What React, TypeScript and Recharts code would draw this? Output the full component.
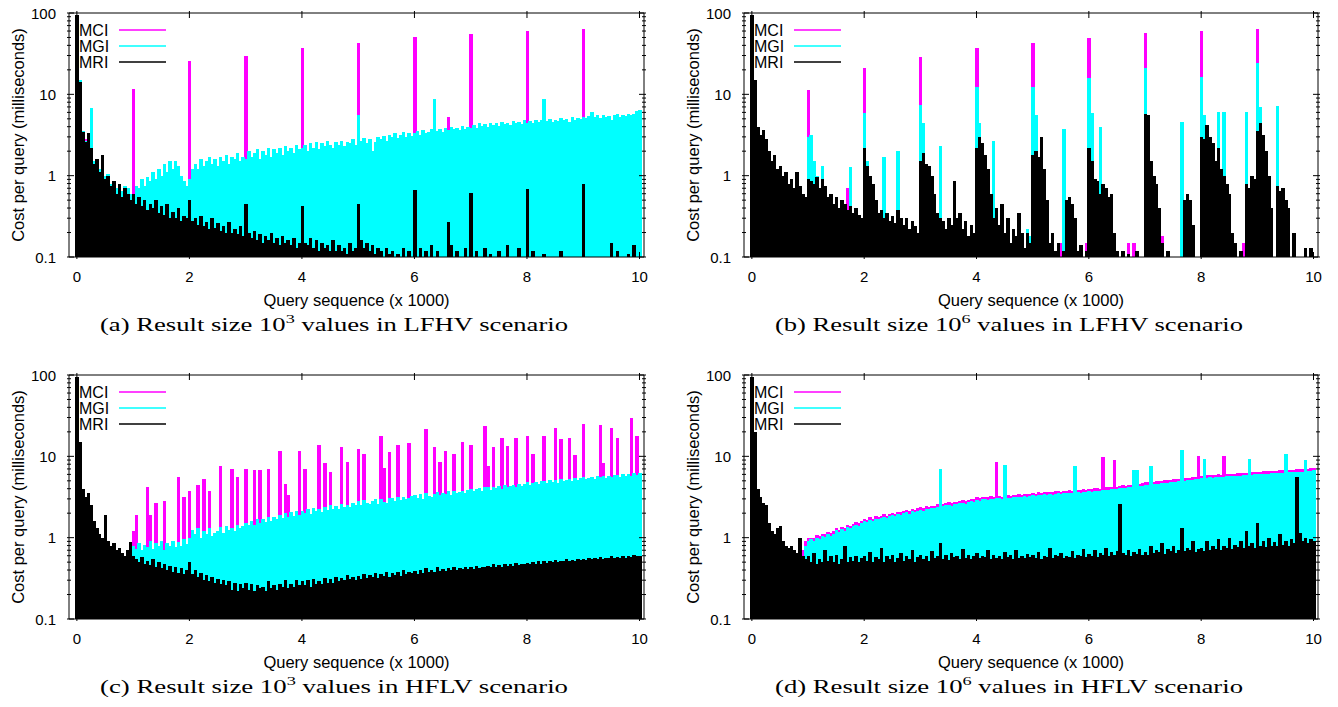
import React from "react";
import { ComposedChart, Bar, XAxis, YAxis } from "recharts";

// one slot = 50 queries, x axis is in thousands of queries
const queryStep = 0.05;
const xDomain = [-0.14, 10.08];
const xTicks = [0, 2, 4, 6, 8, 10];
const yTicks = [
  0.1, 0.2, 0.3, 0.4, 0.5, 0.6, 0.7, 0.8, 0.9,
  1, 2, 3, 4, 5, 6, 7, 8, 9,
  10, 20, 30, 40, 50, 60, 70, 80, 90, 100,
];
const yLabelTicks = [0.1, 1, 10, 100];

const seriesKeys = ["mci", "mgi", "mri"];
const seriesNames = ["MCI", "MGI", "MRI"];
const seriesColors = ["#ff00ff", "#00ffff", "#000000"];

const xTitle = "Query sequence (x 1000)";
const yTitle = "Cost per query (milliseconds)";
const panelLabels = ["(a)", "(b)", "(c)", "(d)"];
const resultExponents = ["3", "6", "3", "6"];
const scenarios = ["LFHV", "LFHV", "HFLV", "HFLV"];

// (a) result size 10^3, LFHV
const mciA = [
  92, 14, 3.5, 2.8, 3.2, 2.4, 1.5, 1.6, 1.2, 1.7, 1.0, 1.05, 0.8, 0.85, 0.7, 0.8, 0.6, 0.72, 0.65, 0.55,
  11.6, 0.6, 0.6, 0.75, 0.6, 0.8, 0.7, 0.9, 0.75, 1.0, 0.85, 1.1, 0.9, 1.2, 1.0, 1.2, 1.1, 0.85, 0.7, 0.6,
  26, 1.0, 1.2, 1.0, 1.3, 1.1, 1.3, 1.4, 1.2, 1.3, 1.1, 1.4, 1.3, 1.5, 1.2, 1.4, 1.3, 1.6, 1.3, 1.4,
  29.6, 1.7, 1.4, 1.6, 1.8, 1.4, 1.7, 1.5, 1.9, 1.5, 1.8, 1.6, 1.9, 1.5, 2.0, 1.7, 1.9, 1.6, 2.0, 1.8,
  37, 2.0, 1.7, 2.1, 1.9, 2.2, 1.8, 2.1, 2.0, 2.3, 2.0, 1.9, 2.2, 2.0, 2.3, 2.0, 2.2, 2.1, 2.4, 2.0,
  43, 2.3, 2.4, 2.1, 2.4, 1.8, 2.2, 2.5, 2.4, 2.6, 2.3, 2.7, 2.5, 2.8, 2.5, 2.7, 2.9, 2.6, 2.8, 2.6,
  50.6, 3.0, 2.7, 3.0, 2.8, 2.9, 3.1, 3.0, 3.0, 3.2, 2.9, 3.3, 5.3, 3.4, 3.1, 3.3, 3.1, 3.5, 3.2, 3.4,
  55, 3.6, 3.3, 3.7, 3.5, 3.6, 3.4, 3.8, 3.5, 3.7, 3.5, 3.9, 3.6, 3.8, 3.6, 4.0, 3.7, 3.9, 3.6, 4.0,
  60, 4.0, 3.7, 4.1, 3.9, 4.0, 4.1, 3.9, 4.2, 3.9, 4.1, 4.0, 4.3, 4.0, 4.2, 3.9, 4.4, 4.1, 4.3, 4.2,
  63.6, 4.3, 4.5, 4.6, 4.4, 4.6, 4.3, 4.7, 4.5, 4.6, 4.2, 4.7, 4.8, 4.5, 4.7, 4.6, 4.9, 4.7, 4.8, 5.2,
  5.5,
];
const mgiA = [
  90, 15, 3.5, 2.7, 3.2, 6.8, 1.5, 1.5, 1.2, 1.6, 1.0, 1.05, 0.8, 0.85, 0.7, 0.8, 0.65, 0.75, 0.7, 0.6,
  0.6, 0.75, 0.7, 0.9, 0.75, 0.95, 0.85, 1.1, 0.9, 1.2, 1.0, 1.4, 1.1, 1.5, 1.2, 1.5, 1.3, 1.0, 0.85, 0.75,
  0.9, 1.2, 1.4, 1.2, 1.6, 1.3, 1.5, 1.7, 1.4, 1.6, 1.3, 1.7, 1.5, 1.8, 1.4, 1.7, 1.6, 1.9, 1.5, 1.7,
  1.6, 2.0, 1.7, 1.9, 2.1, 1.6, 2.0, 1.8, 2.2, 1.7, 2.1, 1.9, 2.2, 1.8, 2.3, 2.0, 2.2, 1.9, 2.4, 2.1,
  2.2, 2.4, 2.0, 2.5, 2.2, 2.6, 2.1, 2.5, 2.3, 2.7, 2.4, 2.2, 2.6, 2.4, 2.7, 2.3, 2.6, 2.5, 2.8, 2.4,
  5.5, 2.7, 2.9, 2.5, 2.8, 2.0, 2.6, 3.0, 2.8, 3.1, 2.7, 3.2, 3.0, 3.3, 2.9, 3.2, 3.4, 3.0, 3.3, 3.1,
  3.3, 3.5, 3.2, 3.6, 3.3, 3.4, 3.7, 8.7, 3.5, 3.8, 3.4, 3.9, 3.6, 4.0, 3.7, 3.9, 3.6, 4.1, 3.8, 4.0,
  3.9, 4.2, 3.9, 4.4, 4.1, 4.3, 4.0, 4.5, 4.2, 4.4, 4.1, 4.6, 4.3, 4.5, 4.2, 4.7, 4.4, 4.6, 4.3, 4.8,
  4.5, 4.7, 4.4, 4.9, 4.6, 4.8, 8.7, 4.7, 5.0, 4.6, 4.9, 4.7, 5.1, 4.8, 5.0, 4.6, 5.2, 4.9, 5.1, 5.0,
  5.3, 5.1, 5.4, 6.0, 5.2, 5.5, 5.1, 5.6, 5.3, 5.4, 4.9, 5.5, 5.7, 5.3, 5.6, 5.4, 5.8, 5.5, 5.7, 6.2,
  6.5,
];
const mriA = [
  95, 14, 3.4, 2.6, 3.3, 2.2, 1.4, 1.6, 1.1, 1.8, 0.9, 1.0, 0.75, 0.85, 0.6, 0.8, 0.55, 0.7, 0.6, 0.5,
  0.6, 0.45, 0.55, 0.42, 0.5, 0.38, 0.45, 0.4, 0.5, 0.35, 0.42, 0.33, 0.45, 0.3, 0.36, 0.3, 0.4, 0.28, 0.32, 0.3,
  0.5, 0.28, 0.3, 0.25, 0.32, 0.24, 0.27, 0.22, 0.3, 0.23, 0.26, 0.21, 0.24, 0.2, 0.27, 0.2, 0.22, 0.19, 0.24, 0.18,
  0.45, 0.2, 0.17, 0.21, 0.16, 0.19, 0.15, 0.18, 0.16, 0.2, 0.15, 0.17, 0.14, 0.18, 0.15, 0.16, 0.14, 0.17, 0.13, 0.15,
  0.42, 0.15, 0.14, 0.17, 0.13, 0.16, 0.12, 0.15, 0.13, 0.14, 0.12, 0.16, 0.12, 0.14, 0.12, 0.13, 0.11, 0.15, 0.12, 0.13,
  0.45, 0.16, 0.13, 0.15, 0.12, 0.14, 0.11, 0.13, 0.12, 0.1, 0.13, 0.11, 0.12, 0.1, 0.11, 0.1, 0.13, 0.1, 0.12, 0.1,
  0.66, 0.1, 0.13, 0.1, 0.12, 0.1, 0.14, 0.1, 0.12, 0.1, 0.1, 0.1, 0.27, 0.14, 0.1, 0.12, 0.1, 0.1, 0.13, 0.1,
  0.62, 0.1, 0.12, 0.1, 0.1, 0.13, 0.1, 0.11, 0.1, 0.1, 0.12, 0.1, 0.1, 0.14, 0.1, 0.1, 0.1, 0.13, 0.1, 0.1,
  0.69, 0.1, 0.12, 0.1, 0.1, 0.1, 0.11, 0.1, 0.1, 0.1, 0.1, 0.1, 0.12, 0.1, 0.1, 0.1, 0.1, 0.1, 0.1, 0.1,
  0.79, 0.1, 0.1, 0.1, 0.1, 0.1, 0.1, 0.1, 0.1, 0.1, 0.15, 0.1, 0.12, 0.1, 0.1, 0.1, 0.11, 0.1, 0.14, 0.1,
  0.1,
];

// (b) result size 10^6, LFHV
const mciB = [
  92, 15, 4.0, 3.2, 3.6, 2.8, 2.0, 1.5, 1.8, 1.2, 1.3, 1.0, 1.1, 0.8, 0.9, 0.7, 1.1, 0.75, 0.6, 0.55,
  11.2, 0.85, 0.8, 0.95, 0.7, 0.9, 0.75, 0.55, 0.6, 0.45, 0.55, 0.4, 0.5, 0.45, 0.7, 0.42, 0.35, 0.4, 0.33, 0.3,
  21, 1.3, 1.0, 0.8, 0.5, 0.35, 0.38, 0.3, 0.35, 0.28, 0.32, 0.26, 0.38, 0.3, 0.25, 0.3, 0.22, 0.28, 0.24, 0.2,
  29, 1.9, 1.4, 1.3, 1.0, 0.6, 0.35, 0.3, 0.28, 0.22, 0.3, 0.25, 0.85, 0.3, 0.35, 0.22, 0.28, 0.18, 0.25, 0.2,
  37, 3.0, 2.5, 1.8, 1.2, 0.6, 0.3, 0.4, 0.25, 0.45, 0.2, 0.3, 0.15, 0.22, 0.18, 0.35, 0.2, 0.13, 0.22, 0.18,
  43, 2.0, 1.7, 3.0, 1.2, 0.5, 0.15, 0.2, 0.12, 0.15, 0.15, 0.12, 0.5, 0.55, 0.45, 0.3, 0.12, 0.14, 0.1, 0.15,
  49, 1.5, 0.9, 0.85, 0.6, 0.8, 0.7, 0.55, 0.6, 0.2, 0.12, 0.1, 0.12, 0.1, 0.15, 0.1, 0.15, 0.12, 0.1, 0.1,
  56, 5.5, 1.5, 1.0, 0.8, 0.4, 0.18, 0.1, 0.12, 0.1, 0.1, 0.1, 0.1, 0.1, 0.5, 0.6, 0.5, 0.25, 0.1, 0.1,
  60, 2.8, 4.2, 3.0, 2.5, 1.5, 2.2, 1.2, 1.0, 0.8, 0.6, 0.2, 0.15, 0.1, 0.12, 0.15, 0.8, 0.7, 1.0, 0.9,
  64, 4.5, 3.2, 2.0, 1.0, 0.4, 0.1, 0.75, 0.65, 0.7, 0.5, 0.4, 0.1, 0.2, 0.1, 0.1, 0.1, 0.13, 0.1, 0.13,
  0.1,
];
const mgiB = [
  90, 15, 4.0, 3.2, 3.6, 2.8, 2.0, 1.5, 1.8, 1.2, 1.3, 1.0, 1.1, 0.8, 0.9, 0.7, 1.1, 0.75, 0.6, 0.55,
  3.0, 3.2, 1.5, 1.0, 0.7, 1.3, 0.75, 0.55, 0.6, 0.45, 0.55, 0.4, 0.5, 0.45, 0.38, 1.28, 0.35, 0.4, 0.33, 0.3,
  5.9, 1.5, 1.0, 0.8, 0.5, 0.35, 0.38, 1.7, 0.35, 0.28, 0.32, 0.26, 2.0, 0.3, 0.25, 0.3, 0.22, 0.28, 0.24, 0.2,
  7.4, 4.5, 1.4, 1.3, 1.0, 0.6, 0.35, 2.3, 0.28, 0.22, 0.3, 0.25, 0.85, 0.3, 0.35, 0.22, 0.28, 0.18, 0.25, 0.2,
  12.3, 4.5, 2.5, 1.8, 1.2, 0.6, 2.7, 0.4, 0.25, 0.45, 0.2, 0.3, 0.15, 0.22, 0.18, 0.35, 0.2, 0.13, 0.22, 0.18,
  12.3, 5.5, 1.7, 3.0, 1.2, 0.5, 0.15, 0.2, 0.12, 0.15, 0.1, 3.7, 0.5, 0.55, 0.45, 0.3, 0.12, 0.14, 0.1, 0.12,
  15.8, 5.9, 0.9, 0.85, 4.0, 0.8, 0.7, 0.55, 0.6, 0.2, 0.12, 0.1, 0.12, 0.1, 0.11, 0.1, 0.1, 0.12, 0.1, 0.1,
  21, 5.5, 1.5, 1.0, 0.8, 0.4, 0.15, 0.1, 0.12, 0.1, 0.1, 0.1, 0.1, 4.6, 0.5, 0.6, 0.5, 0.25, 0.1, 0.1,
  16.3, 5.5, 4.2, 3.0, 2.5, 1.5, 6.0, 1.2, 6.0, 0.8, 0.6, 0.2, 0.15, 0.1, 0.12, 0.1, 6.0, 0.7, 1.0, 0.9,
  24, 7.0, 3.2, 2.0, 1.0, 0.4, 0.1, 7.2, 0.65, 0.7, 0.5, 0.4, 0.1, 0.2, 0.1, 0.1, 0.1, 0.13, 0.1, 0.13,
  0.1,
];
const mriB = [
  95, 15, 4.0, 3.2, 3.6, 2.8, 2.0, 1.5, 1.8, 1.2, 1.3, 1.0, 1.1, 0.8, 0.9, 0.7, 1.1, 0.75, 0.6, 0.55,
  0.9, 0.85, 0.8, 0.95, 0.7, 0.9, 0.75, 0.55, 0.6, 0.45, 0.55, 0.4, 0.5, 0.45, 0.38, 0.42, 0.35, 0.4, 0.33, 0.3,
  2.2, 1.3, 1.0, 0.8, 0.5, 0.35, 0.38, 0.3, 0.35, 0.28, 0.32, 0.26, 0.38, 0.3, 0.25, 0.3, 0.22, 0.28, 0.24, 0.2,
  1.5, 1.9, 1.4, 1.3, 1.0, 0.6, 0.35, 0.3, 0.28, 0.22, 0.3, 0.25, 0.85, 0.3, 0.35, 0.22, 0.28, 0.18, 0.25, 0.2,
  2.2, 3.0, 2.5, 1.8, 1.2, 0.6, 0.3, 0.4, 0.25, 0.45, 0.2, 0.3, 0.15, 0.22, 0.18, 0.35, 0.2, 0.13, 0.2, 0.15,
  1.8, 2.0, 1.7, 3.0, 1.2, 0.5, 0.15, 0.2, 0.12, 0.15, 0.1, 0.12, 0.5, 0.55, 0.45, 0.3, 0.12, 0.14, 0.1, 0.12,
  2.2, 1.5, 0.9, 0.85, 0.6, 0.8, 0.7, 0.55, 0.6, 0.2, 0.12, 0.1, 0.12, 0.1, 0.11, 0.1, 0.1, 0.12, 0.1, 0.1,
  5.7, 5.5, 1.5, 1.0, 0.8, 0.4, 0.15, 0.1, 0.12, 0.1, 0.1, 0.1, 0.1, 0.1, 0.5, 0.6, 0.5, 0.25, 0.1, 0.1,
  3.0, 2.8, 4.2, 3.0, 2.5, 1.5, 2.2, 1.2, 1.0, 0.8, 0.6, 0.2, 0.15, 0.1, 0.12, 0.1, 0.8, 0.7, 1.0, 0.9,
  3.5, 4.5, 3.2, 2.0, 1.0, 0.4, 0.1, 0.75, 0.65, 0.7, 0.5, 0.4, 0.1, 0.2, 0.1, 0.1, 0.1, 0.13, 0.1, 0.13,
  0.1,
];

// (c) result size 10^3, HFLV
const mciC = [
  92, 15, 4.0, 3.2, 3.5, 2.5, 1.6, 1.3, 1.1, 1.0, 1.8, 0.9, 0.8, 0.85, 0.7, 0.75, 0.65, 0.6, 0.7, 0.85,
  1.2, 1.9, 0.7, 0.65, 0.7, 4.2, 1.9, 0.65, 2.7, 0.7, 0.75, 2.8, 0.7, 0.7, 0.75, 0.7, 5.6, 0.75, 3.2, 0.75,
  3.8, 1.0, 0.95, 4.5, 0.9, 5.3, 0.95, 3.8, 1.0, 1.05, 1.0, 7.6, 1.0, 1.1, 1.05, 6.9, 1.05, 5.6, 1.1, 1.15,
  6.9, 1.2, 1.3, 6.8, 1.35, 6.7, 1.4, 1.3, 7.0, 1.35, 1.5, 1.4, 11.6, 1.5, 4.6, 3.3, 1.6, 1.55, 1.7, 11.6,
  1.8, 7.0, 1.85, 1.7, 1.9, 1.8, 13.7, 1.75, 8.2, 1.9, 6.5, 1.95, 2.0, 1.9, 12.9, 2.0, 8.4, 2.0, 2.2, 2.1,
  12.4, 2.2, 10.8, 2.1, 2.4, 2.3, 2.5, 2.2, 17.7, 7.1, 2.55, 11.2, 2.6, 2.45, 13.7, 2.5, 2.7, 2.5, 14.4, 2.6,
  2.8, 2.65, 2.9, 2.6, 21.5, 2.7, 2.95, 13, 3.0, 8.4, 3.0, 11.5, 3.1, 2.9, 10.8, 3.0, 3.2, 14.8, 3.25, 3.1,
  13.6, 3.15, 3.4, 3.2, 3.5, 23.6, 7.5, 3.3, 12.9, 3.4, 3.6, 16.7, 3.7, 13.3, 3.8, 3.6, 16.6, 3.6, 3.9, 3.7,
  18, 3.8, 10.6, 3.9, 4.1, 3.9, 18, 4.0, 4.3, 4.0, 22, 4.1, 16.4, 4.2, 4.4, 17, 4.2, 10.3, 4.6, 4.3,
  24.8, 4.4, 4.7, 4.5, 4.8, 4.5, 24.3, 8.2, 4.9, 4.6, 22, 4.7, 17, 4.8, 5.1, 4.8, 5.2, 29.5, 5.0, 18,
  5.3,
];
const mgiC = [
  90, 15, 4.0, 3.2, 3.5, 2.5, 1.6, 1.3, 1.1, 1.0, 1.8, 0.9, 0.8, 0.85, 0.7, 0.75, 0.65, 0.6, 0.7, 0.85,
  0.8, 0.72, 0.85, 0.7, 0.82, 0.76, 0.9, 0.72, 0.86, 0.78, 0.92, 0.7, 0.85, 0.8, 0.9, 0.76, 0.88, 0.8, 0.95, 0.84,
  1.0, 1.25, 1.1, 1.3, 1.0, 1.2, 1.12, 1.3, 1.05, 1.15, 1.2, 1.35, 1.15, 1.4, 1.25, 1.32, 1.2, 1.45, 1.3, 1.4,
  1.5, 1.42, 1.6, 1.45, 1.68, 1.5, 1.7, 1.55, 1.78, 1.6, 1.82, 1.68, 1.9, 1.75, 2.0, 1.82, 2.05, 1.85, 2.1, 1.92,
  2.15, 2.0, 2.25, 1.95, 2.3, 2.12, 2.25, 2.05, 2.4, 2.2, 2.5, 2.28, 2.45, 2.25, 2.6, 2.4, 2.55, 2.35, 2.7, 2.5,
  2.8, 2.55, 2.9, 2.7, 2.6, 2.85, 2.95, 2.62, 3.0, 2.75, 2.7, 3.05, 3.1, 2.8, 3.15, 2.9, 3.2, 2.95, 3.05, 3.25,
  3.3, 3.1, 3.4, 3.0, 3.5, 3.25, 3.2, 3.45, 3.6, 3.3, 3.55, 3.4, 3.7, 3.35, 3.75, 3.5, 3.65, 3.8, 3.55, 3.85,
  4.0, 3.7, 3.95, 4.1, 3.8, 4.15, 4.2, 3.9, 4.25, 4.05, 4.3, 4.0, 4.4, 4.15, 4.35, 4.5, 4.2, 4.55, 4.3, 4.6,
  4.8, 4.5, 4.7, 4.9, 4.55, 4.95, 5.0, 4.7, 5.05, 4.8, 5.1, 4.75, 5.2, 4.95, 5.15, 5.3, 5.0, 5.35, 5.1, 5.4,
  5.5, 5.2, 5.45, 5.6, 5.3, 5.7, 5.5, 5.75, 5.4, 5.8, 5.6, 5.85, 5.9, 5.55, 6.0, 5.7, 6.05, 5.8, 6.2, 5.9,
  6.2,
];
const mriC = [
  95, 15, 4.0, 3.2, 3.5, 2.5, 1.6, 1.3, 1.1, 1.0, 1.9, 0.9, 0.8, 0.85, 0.7, 0.75, 0.65, 0.6, 0.7, 0.88,
  0.6, 0.55, 0.5, 0.58, 0.48, 0.52, 0.46, 0.55, 0.44, 0.5, 0.42, 0.47, 0.4, 0.45, 0.38, 0.44, 0.37, 0.42, 0.36, 0.4,
  0.5, 0.36, 0.4, 0.33, 0.37, 0.3, 0.35, 0.29, 0.33, 0.28, 0.31, 0.27, 0.3, 0.26, 0.29, 0.23, 0.28, 0.22, 0.27, 0.24,
  0.28, 0.23, 0.27, 0.22, 0.26, 0.24, 0.25, 0.22, 0.29, 0.24, 0.26, 0.23, 0.27, 0.25, 0.3, 0.24, 0.27, 0.25, 0.3, 0.26,
  0.29, 0.26, 0.3, 0.25, 0.31, 0.27, 0.29, 0.27, 0.32, 0.28, 0.31, 0.28, 0.33, 0.29, 0.32, 0.3, 0.35, 0.31, 0.33, 0.3,
  0.34, 0.31, 0.36, 0.32, 0.35, 0.33, 0.37, 0.32, 0.36, 0.34, 0.38, 0.33, 0.37, 0.35, 0.38, 0.34, 0.4, 0.36, 0.38, 0.37,
  0.39, 0.36, 0.4, 0.37, 0.42, 0.38, 0.4, 0.38, 0.43, 0.39, 0.41, 0.39, 0.42, 0.4, 0.44, 0.4, 0.42, 0.41, 0.44, 0.41,
  0.43, 0.41, 0.45, 0.42, 0.44, 0.43, 0.45, 0.43, 0.47, 0.44, 0.46, 0.44, 0.47, 0.45, 0.48, 0.45, 0.49, 0.46, 0.48, 0.47,
  0.49, 0.47, 0.5, 0.48, 0.51, 0.48, 0.52, 0.49, 0.51, 0.5, 0.53, 0.5, 0.52, 0.51, 0.54, 0.51, 0.53, 0.52, 0.55, 0.53,
  0.55, 0.53, 0.56, 0.54, 0.57, 0.55, 0.58, 0.55, 0.57, 0.56, 0.59, 0.56, 0.58, 0.57, 0.6, 0.57, 0.59, 0.58, 0.61, 0.59,
  0.6,
];

// (d) result size 10^6, HFLV
const mciD = [
  92, 20, 4.0, 3.2, 2.7, 2.5, 1.5, 1.2, 1.1, 1.3, 1.4, 0.9, 0.8, 0.75, 0.8, 0.7, 0.65, 1.0, 0.7, 0.9,
  0.98, 1.0, 1.0, 1.08, 1.04, 1.12, 1.1, 1.18, 1.14, 1.2, 1.32, 1.26, 1.36, 1.3, 1.44, 1.38, 1.48, 1.55, 1.5, 1.62,
  1.72, 1.66, 1.78, 1.72, 1.85, 1.8, 1.86, 1.94, 1.86, 1.98, 2.02, 1.96, 2.08, 2.04, 2.14, 2.2, 2.12, 2.25, 2.2, 2.3,
  2.37, 2.3, 2.44, 2.4, 2.48, 2.46, 2.56, 2.5, 2.6, 2.68, 2.72, 2.66, 2.78, 2.74, 2.84, 2.9, 2.8, 2.94, 3.0, 2.96,
  3.14, 3.05, 3.16, 3.2, 3.12, 3.24, 3.2, 8.5, 3.26, 3.2, 3.3, 3.32, 3.26, 3.38, 3.34, 3.42, 3.36, 3.45, 3.4, 3.48,
  3.55, 3.48, 3.6, 3.55, 3.64, 3.6, 3.66, 3.62, 3.7, 3.75, 3.68, 3.78, 3.74, 3.82, 3.78, 3.84, 3.86, 3.84, 3.92, 3.88,
  4.0, 3.95, 4.04, 4.08, 4.02, 9.7, 4.18, 4.14, 4.24, 8.9, 4.25, 4.34, 4.4, 4.36, 4.45, 4.5, 4.52, 4.56, 4.6, 4.66,
  4.8, 4.82, 4.88, 4.86, 4.95, 4.92, 5.04, 5.08, 5.05, 5.14, 5.24, 5.2, 5.3, 5.32, 5.36, 5.46, 5.4, 5.55, 5.58, 10,
  5.8, 5.75, 5.84, 5.9, 5.86, 5.95, 5.98, 5.96, 10, 6.1, 6.06, 6.15, 6.12, 6.2, 6.18, 6.26, 6.3, 6.28, 6.36, 6.42,
  6.5, 6.44, 6.52, 6.58, 6.55, 6.64, 6.6, 6.68, 6.74, 6.7, 6.78, 6.8, 6.85, 6.82, 6.9, 6.96, 6.94, 7.0, 7.08, 7.1,
  7.2,
];
const mgiD = [
  90, 20, 4.0, 3.2, 2.7, 2.5, 1.5, 1.2, 1.1, 1.3, 1.4, 0.9, 0.8, 0.75, 0.8, 0.7, 0.65, 1.0, 0.6, 0.8,
  0.9, 0.95, 0.92, 1.0, 0.97, 1.05, 1.02, 1.1, 1.06, 1.12, 1.25, 1.18, 1.28, 1.22, 1.35, 1.3, 1.38, 1.45, 1.4, 1.52,
  1.6, 1.55, 1.66, 1.62, 1.72, 1.68, 1.75, 1.8, 1.74, 1.85, 1.9, 1.84, 1.95, 1.9, 2.0, 2.05, 1.98, 2.1, 2.06, 2.15,
  2.2, 2.15, 2.28, 2.25, 2.32, 2.3, 2.4, 6.9, 2.42, 2.5, 2.55, 2.48, 2.6, 2.56, 2.65, 2.7, 2.62, 2.75, 2.8, 2.78,
  2.9, 2.85, 2.95, 3.0, 2.92, 3.02, 3.0, 3.08, 3.05, 2.98, 7.9, 3.1, 3.05, 3.15, 3.12, 3.2, 3.15, 3.22, 3.18, 3.25,
  3.3, 3.25, 3.35, 3.3, 3.4, 3.36, 3.42, 3.38, 3.45, 3.5, 3.44, 3.52, 3.5, 3.56, 3.52, 7.6, 3.6, 3.58, 3.65, 3.62,
  3.7, 3.68, 3.76, 3.8, 3.75, 3.85, 3.9, 3.86, 3.95, 4.0, 3.96, 4.05, 4.1, 4.06, 4.15, 4.2, 6.7, 6.7, 4.3, 4.36,
  4.45, 4.5, 7.6, 4.55, 4.62, 4.6, 4.7, 4.75, 4.72, 4.8, 4.9, 4.86, 4.95, 11.8, 5.0, 5.1, 5.05, 5.18, 5.22, 5.3,
  5.4, 9.4, 5.45, 5.5, 5.46, 5.55, 5.6, 5.58, 5.65, 5.7, 5.66, 5.75, 5.72, 5.8, 5.78, 5.85, 5.9, 9.4, 5.95, 6.0,
  6.05, 6.0, 6.1, 6.15, 6.12, 6.2, 6.18, 6.25, 6.3, 6.26, 10.6, 6.35, 6.4, 6.36, 6.45, 6.5, 6.48, 8.9, 6.6, 6.62,
  6.7,
];
const mriD = [
  95, 20, 4.0, 3.2, 2.7, 2.5, 1.5, 1.2, 1.1, 1.3, 1.4, 0.9, 0.8, 0.75, 0.8, 0.7, 0.65, 1.0, 0.6, 0.55,
  0.6, 0.5, 0.65, 0.48, 0.55, 0.5, 0.7, 0.52, 0.6, 0.5, 0.62, 0.48, 0.55, 0.8, 0.5, 0.58, 0.52, 0.6, 0.5, 0.56,
  0.6, 0.52, 0.66, 0.5, 0.58, 0.55, 0.75, 0.5, 0.6, 0.54, 0.62, 0.5, 0.57, 0.65, 0.52, 0.6, 0.55, 0.7, 0.5, 0.58,
  0.62, 0.55, 0.6, 0.52, 0.68, 0.56, 0.6, 0.85, 0.55, 0.62, 0.53, 0.65, 0.58, 0.6, 0.54, 0.72, 0.56, 0.62, 0.55, 0.6,
  0.64, 0.56, 0.6, 0.58, 0.7, 0.55, 0.62, 0.57, 0.6, 0.54, 0.66, 0.58, 0.62, 0.55, 0.7, 0.57, 0.6, 0.56, 0.63, 0.58,
  0.62, 0.57, 0.66, 0.55, 0.6, 0.58, 0.75, 0.56, 0.62, 0.59, 0.65, 0.57, 0.6, 0.58, 0.68, 0.56, 0.62, 0.6, 0.72, 0.58,
  0.63, 0.6, 0.7, 0.58, 0.65, 0.62, 0.75, 0.6, 0.66, 0.62, 0.68, 2.6, 0.64, 0.62, 0.7, 0.6, 0.66, 0.63, 0.72, 0.61,
  0.66, 0.62, 0.78, 0.64, 0.7, 0.66, 0.85, 0.63, 0.72, 0.68, 0.8, 0.65, 0.7, 1.3, 0.68, 0.74, 0.7, 0.9, 0.66, 0.72,
  0.75, 0.68, 0.9, 0.7, 0.78, 0.72, 0.95, 0.7, 0.8, 0.74, 1.0, 0.72, 0.82, 0.76, 0.9, 0.74, 1.2, 0.78, 0.85, 0.75,
  1.5, 0.8, 0.9, 0.76, 1.0, 0.78, 0.88, 0.8, 1.1, 0.82, 0.9, 0.79, 0.95, 0.85, 5.5, 1.15, 0.9, 1.0, 0.85, 0.95,
  0.9,
];

const FONT = '"Liberation Sans", Arial, Helvetica, sans-serif';
const SERIF = '"Liberation Serif", "Times New Roman", serif';

const buildRows = (mci: number[], mgi: number[], mri: number[]) =>
  mri.map((v, i) => ({
    q: Math.round(i * queryStep * 100) / 100,
    mci: mci[i],
    mgi: mgi[i],
    mri: v,
  }));

// gnuplot impulses: adjacent slots must touch, so widen each bar a little
function Impulse(props: any) {
  const { x, y, width, height, fill } = props;
  if (!height || height <= 0) return null;
  return <rect x={x} y={y} width={width + 0.7} height={height} fill={fill} shapeRendering="crispEdges" />;
}

function XTick(props: any) {
  const { x, y, payload, side } = props;
  if (side === "top") {
    return <line x1={x} y1={y} x2={x} y2={y + 7} stroke="#000" />;
  }
  return (
    <g>
      <line x1={x} y1={y} x2={x} y2={y - 7} stroke="#000" />
      <text x={x} y={y + 23} textAnchor="middle" fontSize={15} fontFamily={FONT} fill="#000">
        {payload.value}
      </text>
    </g>
  );
}

function YTick(props: any) {
  const { x, y, payload, side } = props;
  const major = yLabelTicks.includes(payload.value);
  const len = major ? 7 : 4;
  const dir = side === "left" ? 1 : -1;
  return (
    <g>
      <line x1={x} y1={y} x2={x + dir * len} y2={y} stroke="#000" />
      {major && side === "left" ? (
        <text x={x - 11} y={y + 5.5} textAnchor="end" fontSize={15} fontFamily={FONT} fill="#000">
          {payload.value}
        </text>
      ) : null}
    </g>
  );
}

function XTitle(props: any) {
  const vb = props.viewBox || { x: 0, y: 0, width: 0 };
  return (
    <text x={vb.x + vb.width / 2} y={vb.y + 49} textAnchor="middle" fontSize={16.5} fontFamily={FONT} fill="#000">
      {xTitle}
    </text>
  );
}

function YTitle(props: any) {
  const vb = props.viewBox || { x: 0, y: 0, height: 0 };
  const cx = vb.x + 18;
  const cy = vb.y + vb.height / 2;
  return (
    <text
      x={cx}
      y={cy}
      transform={`rotate(-90 ${cx} ${cy})`}
      textAnchor="middle"
      dominantBaseline="central"
      fontSize={16.5}
      fontFamily={FONT}
      fill="#000"
    >
      {yTitle}
    </text>
  );
}

function Panel({ left, top, width, marginRight, rows, index }: any) {
  return (
    <div style={{ position: "absolute", left, top, width, height: 345 }}>
      <ComposedChart
        width={width}
        height={312}
        data={rows}
        margin={{ top: 12, right: marginRight, bottom: 0, left: 0 }}
        barCategoryGap={0}
        barGap={0}
      >
        {seriesKeys.map((k) => (
          <XAxis key={"x-" + k} xAxisId={k} dataKey="q" type="number" domain={xDomain} allowDataOverflow hide />
        ))}
        {seriesKeys.map((k, i) => (
          <Bar
            key={k}
            xAxisId={k}
            dataKey={k}
            fill={seriesColors[i]}
            barSize={2.8}
            shape={<Impulse />}
            isAnimationActive={false}
          />
        ))}
        <XAxis
          xAxisId="bottom"
          dataKey="q"
          type="number"
          domain={xDomain}
          allowDataOverflow
          ticks={xTicks}
          interval={0}
          height={55}
          tickSize={0}
          tickLine={false}
          tick={<XTick side="bottom" />}
          axisLine={{ stroke: "#000" }}
          label={<XTitle />}
        />
        <XAxis
          xAxisId="top"
          orientation="top"
          dataKey="q"
          type="number"
          domain={xDomain}
          allowDataOverflow
          ticks={xTicks}
          interval={0}
          height={1}
          tickSize={0}
          tickLine={false}
          tick={<XTick side="top" />}
          axisLine={{ stroke: "#000" }}
        />
        <YAxis
          scale="log"
          domain={[0.1, 100]}
          allowDataOverflow
          ticks={yTicks}
          interval={0}
          width={69}
          tickSize={0}
          tickLine={false}
          tick={<YTick side="left" />}
          axisLine={{ stroke: "#000" }}
          label={<YTitle />}
        />
        <YAxis
          yAxisId="right"
          orientation="right"
          scale="log"
          domain={[0.1, 100]}
          allowDataOverflow
          ticks={yTicks}
          interval={0}
          width={1}
          tickSize={0}
          tickLine={false}
          tick={<YTick side="right" />}
          axisLine={{ stroke: "#000" }}
        />
      </ComposedChart>

      <svg style={{ position: "absolute", left: 69, top: 13 }} width={110} height={62}>
        {seriesNames.map((name, i) => (
          <g key={name}>
            <text x={10} y={17 + 16 * i + 5.5} fontSize={16} fontFamily={FONT} fill="#000">
              {name}
            </text>
            <line x1={50} y1={17 + 16 * i} x2={97} y2={17 + 16 * i} stroke={seriesColors[i]} strokeWidth={1.5} />
          </g>
        ))}
      </svg>

      <svg style={{ position: "absolute", left: 74, top: 300 }} width={520} height={42}>
        <text
          x={260}
          y={31}
          textAnchor="middle"
          textLength={468}
          lengthAdjust="spacingAndGlyphs"
          fontSize={19}
          fontFamily={SERIF}
          fill="#000"
        >
          {panelLabels[index]} Result size 10
          <tspan dy={-8} fontSize={13}>
            {resultExponents[index]}
          </tspan>
          <tspan dy={8}>{` values in ${scenarios[index]} scenario`}</tspan>
        </text>
      </svg>
    </div>
  );
}

export default function App() {
  const rowsA = buildRows(mciA, mgiA, mriA);
  const rowsB = buildRows(mciB, mgiB, mriB);
  const rowsC = buildRows(mciC, mgiC, mriC);
  const rowsD = buildRows(mciD, mgiD, mriD);

  return (
    <div
      style={{
        position: "fixed",
        left: 0,
        top: 0,
        width: 1338,
        height: 707,
        background: "#fff",
        overflow: "hidden",
      }}
    >
      <Panel left={0} top={0} width={670} marginRight={25} rows={rowsA} index={0} />
      <Panel left={675} top={0} width={663} marginRight={19} rows={rowsB} index={1} />
      <Panel left={0} top={362} width={670} marginRight={25} rows={rowsC} index={2} />
      <Panel left={675} top={362} width={663} marginRight={19} rows={rowsD} index={3} />
    </div>
  );
}
